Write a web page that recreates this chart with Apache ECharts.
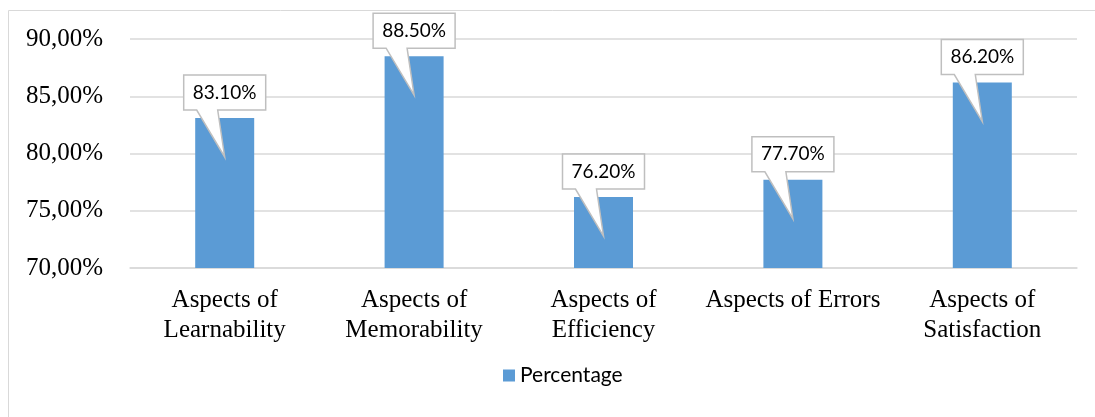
<!DOCTYPE html>
<html>
<head>
	<meta charset="UTF-8">
	<title></title>
	<style type="text/css">
		html, body { margin: 0; padding: 0; background: #fff; }
		.data { width: 1095px; height: 417px; }
	</style>
</head>
<body>
	<div class="data"></div>
	<script src="https://cdn.jsdelivr.net/npm/echarts@6/dist/echarts.min.js" type="text/javascript" charset="utf-8"></script>
	<script type="text/javascript">
		var categories = ['Aspects of\nLearnability', 'Aspects of\nMemorability', 'Aspects of\nEfficiency', 'Aspects of Errors', 'Aspects of\nSatisfaction'];
		var values = [83.1, 88.5, 76.2, 77.7, 86.2];
		var seriesName = 'Percentage';

		var chart = echarts.init(document.querySelector('.data'));

		// callout boxes: built from the bar tops via api.coord
		function renderCallout(params, api) {
			var p = api.coord([api.value(0), api.value(1)]);
			var x = p[0], top = p[1];
			var w = 82, h = 35;
			var B = top - 8, T = B - h, L = x - w / 2, R = x + w / 2;
			var tip = top + 39;
			return {
				type: 'group',
				children: [{
					type: 'polygon',
					shape: { points: [[L, T], [R, T], [R, B], [x - 7, B], [x, tip], [x - 28, B], [L, B]] },
					style: { fill: '#fff', stroke: '#bfbfbf', lineWidth: 1.5 }
				}, {
					type: 'text',
					style: {
						text: values[params.dataIndex].toFixed(2) + '%',
						x: x, y: (T + B) / 2,
						align: 'center', verticalAlign: 'middle',
						font: '19px Lato, "Liberation Sans", sans-serif',
						fill: '#000'
					}
				}]
			};
		}

		var option = {
			animation: false,
			graphic: [{
				type: 'rect',
				shape: { x: 8.5, y: 10.5, width: 1200, height: 500 },
				style: { fill: 'none', stroke: '#d9d9d9', lineWidth: 1 },
				silent: true
			}],
			grid: { left: 130, right: 18, top: 39, bottom: 149 },
			legend: {
				data: [seriesName],
				left: 498, top: 360,
				icon: 'rect', itemWidth: 12, itemHeight: 12, itemGap: 5,
				textStyle: { fontFamily: 'Lato, "Liberation Sans", sans-serif', fontSize: 21, color: '#000' }
			},
			xAxis: {
				type: 'category',
				data: categories,
				axisLine: { lineStyle: { color: '#d9d9d9', width: 1.5 } },
				axisTick: { show: false },
				axisLabel: {
					margin: 17, interval: 0,
					fontFamily: '"Liberation Serif", "Times New Roman", serif',
					fontSize: 25, lineHeight: 30, color: '#000'
				}
			},
			yAxis: {
				type: 'value',
				min: 70, max: 90, interval: 5,
				axisLine: { show: false },
				axisTick: { show: false },
				splitLine: { lineStyle: { color: '#d9d9d9', width: 1.5 } },
				axisLabel: {
					margin: 27,
					fontFamily: '"Liberation Serif", "Times New Roman", serif',
					fontSize: 25, color: '#000',
					formatter: function(v) { return v.toFixed(2).replace('.', ',') + '%'; }
				}
			},
			series: [{
				name: seriesName,
				type: 'bar',
				barWidth: 59,
				itemStyle: { color: '#5b9bd5' },
				data: values
			}, {
				type: 'custom',
				renderItem: renderCallout,
				z: 10,
				data: values.map(function(v, i) { return [i, v]; })
			}]
		};

		chart.setOption(option);
	</script>
</body>
</html>
